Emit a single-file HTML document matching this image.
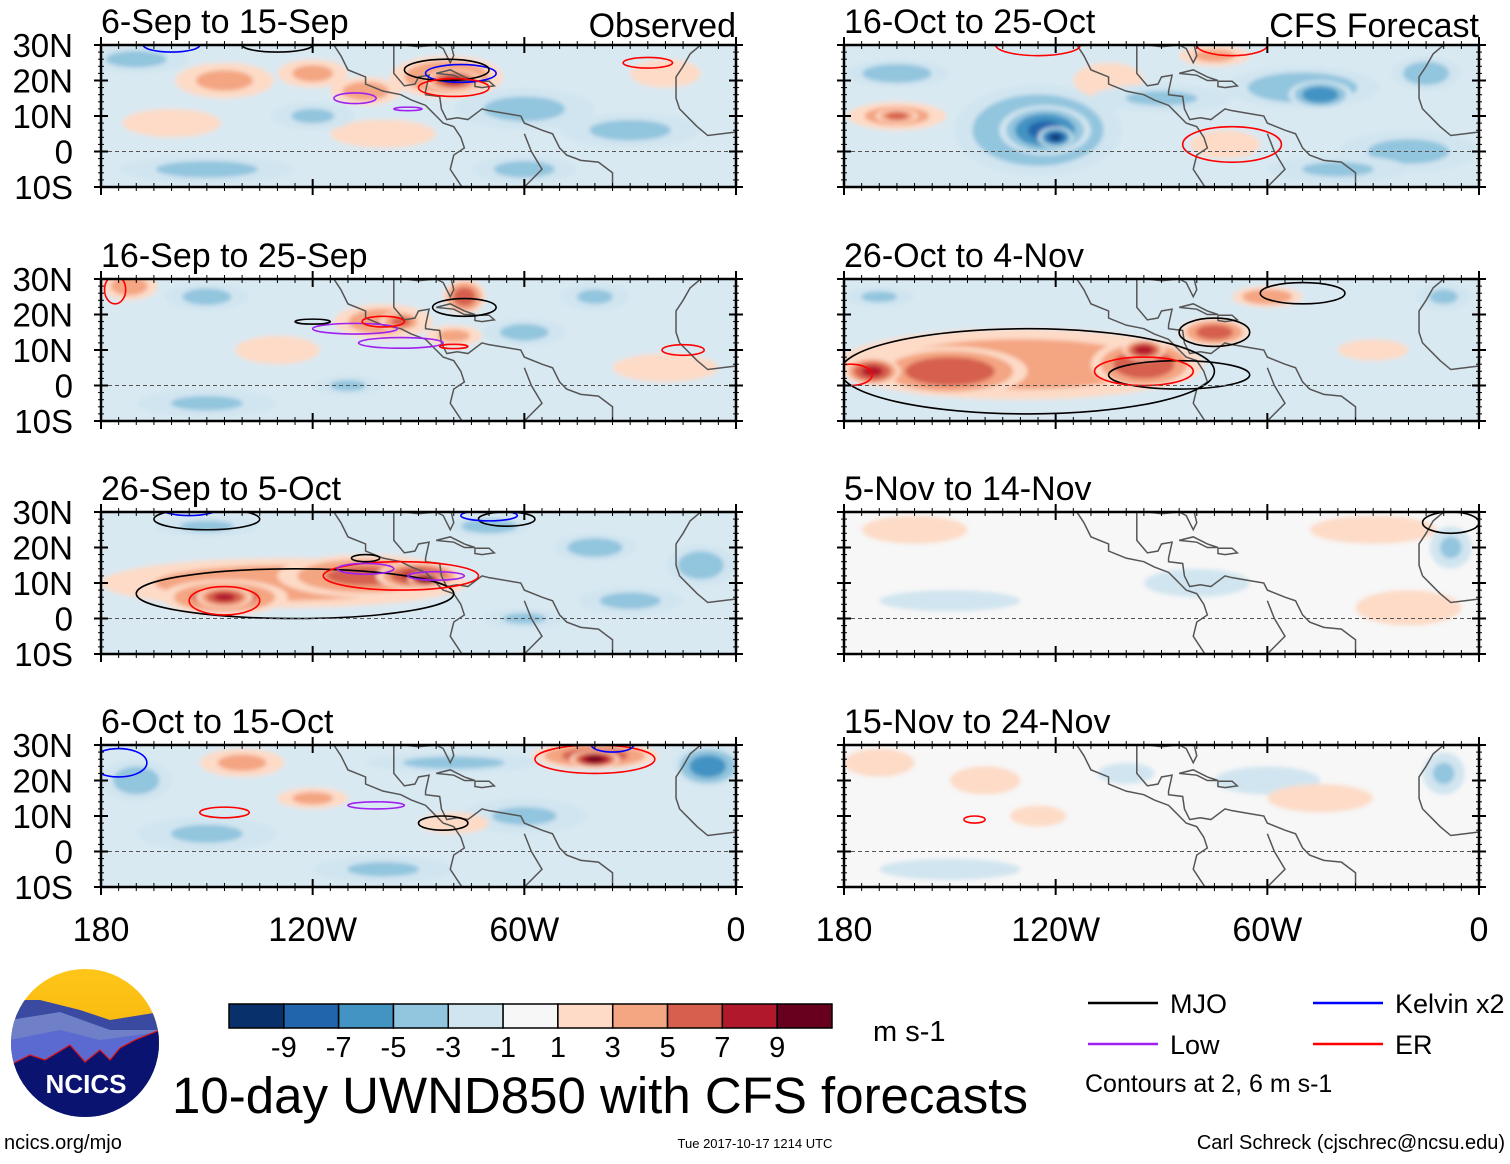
<!DOCTYPE html>
<html><head><meta charset="utf-8">
<style>
body{margin:0;background:#fff;width:1510px;height:1159px;overflow:hidden;font-family:"Liberation Sans",sans-serif;}
svg text{font-family:"Liberation Sans",sans-serif;}
</style></head>
<body>
<svg id="chart" width="1510" height="1159" xmlns="http://www.w3.org/2000/svg">
<defs>
<filter id="blur" x="-20%" y="-20%" width="140%" height="140%"><feGaussianBlur stdDeviation="2"/></filter>
<linearGradient id="sky" x1="0" y1="0" x2="0" y2="1"><stop offset="0" stop-color="#ffc61a"/><stop offset="1" stop-color="#f0a800"/></linearGradient>
<clipPath id="logoClip"><ellipse cx="85" cy="1043" rx="74" ry="74"/></clipPath>
</defs>
</svg>
<script>
// ---- data ----
const panelTitles = ["6-Sep to 15-Sep","16-Sep to 25-Sep","26-Sep to 5-Oct","6-Oct to 15-Oct","16-Oct to 25-Oct","26-Oct to 4-Nov","5-Nov to 14-Nov","15-Nov to 24-Nov"];
const levelColors = ["#08306b","#2166ac","#4393c3","#92c5de","#d1e5f0","#f7f7f7","#fddbc7","#f4a582","#d6604d","#b2182b","#67001f"];
const levelTicks = ["-9","-7","-5","-3","-1","1","3","5","7","9"];
const latTicks = ["30N","20N","10N","0","10S"];
const lonTicks = ["180","120W","60W","0"];
// anomaly blobs per panel: [lon, lat, rx(deg), ry(deg), peak value m/s]
const blobs0 = [[-170,26,15,4,-3.5],[-145,20,14,5,3.5],[-120,22,10,4,3.5],[-105,17,10,4,4],[-82,21,16,6,5],[-80,20,8,3,7.5],[-60,12,20,6,-3.5],[-30,6,20,5,-3.5],[-150,-5,25,4,-3.5],[-60,-5,15,4,-3.5],[-100,5,15,4,2.5],[-20,22,10,4,3],[-120,10,12,4,-3.2],[-160,8,14,4,2.5]];
const blobs1 = [[-150,25,12,4,-3.5],[-100,18,14,5,4.5],[-95,18,6,3,5.5],[-77,25,6,5,6],[-80,14,8,3,3.5],[-60,15,12,4,-3.5],[-172,28,8,4,4],[-130,10,12,4,3],[-20,5,15,4,3],[-150,-5,20,4,-3.2],[-40,25,10,4,-3.2],[-110,0,10,3,-3.2]];
const blobs2 = [[-128,10,52,7,4.5],[-145,6,18,5,6],[-145,6,8,3,7.5],[-105,12,25,6,5.5],[-90,12,12,4,7.5],[-88,11,5,2,9.5],[-40,20,12,4,-4],[-70,26,12,3,-4],[-10,15,10,6,-4],[-150,26,15,3,-3.2],[-30,5,15,4,-3.5],[-60,0,12,3,-3.2]];
const blobs3 = [[-170,20,10,6,-4],[-140,25,12,4,3.5],[-40,27,18,4,6],[-40,26,7,2.5,9.5],[-8,24,10,6,-6],[-80,25,25,3,-3.5],[-150,5,20,5,-3.2],[-60,10,18,5,-3.2],[-120,15,10,3,3.5],[-100,-5,20,4,-3.2],[-80,8,10,3,3]];
const blobs4 = [[-125,6,24,13,-5.5],[-123,6,13,7,-7.5],[-120,4,5,3,-9.2],[-165,10,14,4,4],[-165,10,6,2,6],[-50,18,22,6,-4.5],[-45,16,9,4,-6.5],[-165,22,15,4,-4],[-105,20,10,5,3],[-72,2,10,4,3],[-75,27,10,3,3.5],[-90,15,20,4,-3.2],[-20,0,20,6,-3.5],[-15,22,10,5,-4],[-40,-5,20,4,-3.2]];
const blobs5 = [[-130,6,52,10,4.5],[-150,4,22,7,6.5],[-172,4,8,4,7.5],[-95,6,15,7,6.5],[-95,10,6,3,8],[-75,15,10,4,6],[-60,25,10,3,4.5],[-30,10,10,3,3],[-10,25,8,4,-3.2],[-170,25,10,3,-3.2]];
const blobs6 = [[-30,25,18,4,3],[-20,3,15,5,3],[-150,5,20,3,-2.5],[-80,10,15,4,-2.5],[-8,20,6,6,-3.2],[-160,25,15,4,2.2]];
const blobs7 = [[-140,20,10,4,3],[-125,10,8,3,2.5],[-100,22,8,3,-2.2],[-60,20,15,4,-2.2],[-45,15,15,4,3],[-150,-5,20,3,-2.2],[-10,22,6,6,-3.2],[-170,25,10,4,2.2]];
const panelBlobs = [blobs0,blobs1,blobs2,blobs3,blobs4,blobs5,blobs6,blobs7];
// contours per panel: [lon, lat, rx, ry, color]
const contours0 = [[-78,22,10,2.5,"#0000ff"],[-82,23,12,3,"#000"],[-80,18,10,2.5,"#ff0000"],[-108,15,6,1.5,"#a020f0"],[-93,12,4,0.5,"#a020f0"],[-25,25,7,1.5,"#ff0000"],[-160,30,8,2,"#0000ff"],[-130,30,10,2,"#000"]];
const contours1 = [[-77,22,9,2.5,"#000"],[-108,16,12,1.5,"#a020f0"],[-95,12,12,1.5,"#a020f0"],[-120,18,5,0.7,"#000"],[-100,18,6,1.5,"#ff0000"],[-176,27,3,4,"#ff0000"],[-15,10,6,1.5,"#ff0000"],[-80,11,4,0.6,"#ff0000"]];
const contours2 = [[-125,7,45,7,"#000"],[-145,5,10,4,"#ff0000"],[-95,12,22,4,"#ff0000"],[-105,14,8,1.5,"#a020f0"],[-85,12,8,1.2,"#a020f0"],[-150,28,15,3,"#000"],[-105,17,4,1,"#000"],[-65,28,8,2,"#000"],[-70,29,8,1.5,"#0000ff"],[-155,31,8,2,"#0000ff"]];
const contours3 = [[-145,11,7,1.5,"#ff0000"],[-102,13,8,1,"#a020f0"],[-83,8,7,2,"#000"],[-40,26,17,4,"#ff0000"],[-35,30,6,2,"#0000ff"],[-175,25,8,4,"#0000ff"]];
const contours4 = [[-70,2,14,5,"#ff0000"],[-125,30,12,3,"#ff0000"],[-70,30,10,3,"#ff0000"]];
const contours5 = [[-128,4,53,12,"#000"],[-85,3,20,4,"#000"],[-95,4,14,4,"#ff0000"],[-50,26,12,3,"#000"],[-75,15,10,4,"#000"],[-178,3,6,3,"#ff0000"]];
const contours6 = [[-8,27,8,3,"#000"]];
const contours7 = [[-143,9,3,1,"#ff0000"]];
const panelContours = [contours0,contours1,contours2,contours3,contours4,contours5,contours6,contours7];
const coast = [[-117,32],[-114,30],[-112,27],[-110,23],[-105,21],[-105,19],[-100,17],[-95,16],[-92,14.5],[-88,13],[-86,11],[-85,10],[-83,8],[-80,7],[-78,4],[-77,1],[-80,-1],[-81,-5],[-79,-8],[-77,-11]];
const coast2 = [[-97,30],[-97,26],[-97,22],[-94,18.5],[-91,19],[-90,21],[-87,21.5],[-88,17],[-88,16],[-84,15.5],[-83.5,12],[-82,9],[-79,9.5],[-76,9],[-72,12],[-70,11.5],[-64,10.5],[-61,10],[-60,8],[-55,6],[-52,5],[-50,1],[-48,-1],[-44,-2.5],[-39,-3],[-35,-6],[-35,-11]];
const coast3 = [[-94,30],[-90,29.5],[-85,30],[-83,29],[-82,27],[-81,25],[-80,27],[-81,31]];
const cuba = [[-85,22],[-81,23],[-77,21],[-74,20],[-77,20],[-80,21.5],[-85,22]];
const hisp = [[-74,19.8],[-70,19.8],[-68.5,18.5],[-72,18],[-74,18.3],[-74,19.8]];
const africa = [[-9,32],[-10,30],[-13,27.5],[-15,24],[-17,21],[-17,15],[-16,12],[-13,9],[-11,7],[-8,4.5],[-4,5],[0,5.5]];
const innerLand = [[-60,5],[-58,0],[-55,-5],[-60,-10]];

const ns="http://www.w3.org/2000/svg";
const svg=document.getElementById('chart');
function el(tag,attrs,parent){const e=document.createElementNS(ns,tag);for(const k in attrs)e.setAttribute(k,attrs[k]);(parent||svg).appendChild(e);return e;}
const PW=635, PH=142;
const panelX=[101,101,101,101,844,844,844,844];
const panelY=[45,279,512,745,45,279,512,745];
const bounds=[-9,-7,-5,-3,-1,1,3,5,7,9];
function colorFor(v){
  let i=0; while(i<bounds.length && v>bounds[i]) i++;
  return levelColors[i];
}
panelTitles.forEach((t,p)=>{
  const x0=panelX[p], y0=panelY[p];
  const xs=lon=>x0+(lon+180)*PW/180;
  const ys=lat=>y0+(30-lat)*PH/40;
  const g=el('g',{});
  
  
  const cid='clip'+p;
  const cp=el('clipPath',{id:cid},svg.querySelector('defs'));
  el('rect',{x:x0,y:y0,width:PW,height:PH},cp);
  const inner=el('g',{'clip-path':'url(#'+cid+')'},g);
  const base=p>=6?'#f7f7f7':'#d9e9f2';
  el('rect',{x:x0,y:y0,width:PW,height:PH,fill:base},inner);
  const bg=el('g',{filter:'url(#blur)'},inner);
  el('rect',{x:x0-10,y:y0-10,width:PW+20,height:PH+20,fill:base},bg);
  panelBlobs[p].forEach(b=>{
    const [lon,lat,rx,ry,v]=b;
    const sgn=v<0?-1:1; const a=Math.abs(v);
    [1,3,5,7,9].filter(th=>th<a).forEach(th=>{
      const f=Math.sqrt(1-(th-1)/(a-0.5));
      const e=el('ellipse',{cx:xs(lon),cy:ys(lat),rx:rx*f*PW/180,ry:ry*f*PH/40,fill:colorFor(sgn*(th+0.5))},bg);
      
      
    });
  });
  [coast,coast2,coast3,cuba,hisp,africa,innerLand].forEach(c=>{
    el('polyline',{points:c.map(q=>xs(q[0])+','+ys(q[1])).join(' '),fill:'none',stroke:'#555',"stroke-width":1.5},inner);
  });
  panelContours[p].forEach(c=>{
    const e=el('ellipse',{cx:xs(c[0]),cy:ys(c[1]),rx:c[2]*PW/180,ry:c[3]*PH/40,fill:'none',stroke:c[4],"stroke-width":1.6},inner);
    
    
  });
  el('line',{x1:x0,x2:x0+PW,y1:ys(0),y2:ys(0),stroke:'#555',"stroke-dasharray":'4,3',"stroke-width":1},inner);
  el('rect',{x:x0,y:y0,width:PW,height:PH,fill:'none',stroke:'#000',"stroke-width":2.5},g);
  for(let lon=-180;lon<=0;lon+=5){
    const major=lon%60===0; const len=major?8:4;
    el('line',{x1:xs(lon),x2:xs(lon),y1:y0-len,y2:y0+len,stroke:'#000',"stroke-width":major?2:1},g);
    el('line',{x1:xs(lon),x2:xs(lon),y1:y0+PH-len,y2:y0+PH+len,stroke:'#000',"stroke-width":major?2:1},g);
  }
  for(let lat=-10;lat<=30;lat+=2){
    const major=lat%10===0; const len=major?7:3;
    el('line',{x1:x0-len,x2:x0+len,y1:ys(lat),y2:ys(lat),stroke:'#000',"stroke-width":major?2:1},g);
    el('line',{x1:x0+PW-len,x2:x0+PW+len,y1:ys(lat),y2:ys(lat),stroke:'#000',"stroke-width":major?2:1},g);
  }
  const tt=el('text',{x:x0,y:y0-12,"font-size":34,fill:'#000'},g);
  tt.textContent=t;
  
  
  if(p<4){
    latTicks.forEach((lt,i)=>{
      const tx=el('text',{x:73,y:y0+i*PH/4+12,"font-size":33,"text-anchor":'end'},g);
      tx.textContent=lt;
      
      
    });
  }
  if(p===3||p===7){
    lonTicks.forEach((lt,i)=>{
      const tx=el('text',{x:x0+i*PW/3,y:941,"font-size":34,"text-anchor":'middle'},g);
      tx.textContent=lt;
      
      
    });
  }
});
let h=el('text',{x:736,y:37,"font-size":34,"text-anchor":'end'});h.textContent='Observed';

h=el('text',{x:1479,y:37,"font-size":34,"text-anchor":'end'});h.textContent='CFS Forecast';

const cb=el('g',{});


const cbx=229,cbw=603/11;
levelColors.forEach((c,i)=>{el('rect',{x:cbx+i*cbw,y:1004,width:cbw,height:24,fill:c,stroke:'#000',"stroke-width":1.5},cb);});
levelTicks.forEach((t,i)=>{const tx=el('text',{x:cbx+(i+1)*cbw,y:1057,"font-size":29,"text-anchor":'middle'},cb);tx.textContent=t;});
h=el('text',{x:873,y:1041,"font-size":29});h.textContent='m s-1';

h=el('text',{x:172,y:1113,"font-size":51});h.textContent='10-day UWND850 with CFS forecasts';

const lg=el('g',{});


[[1088,1003,'#000','MJO'],[1088,1044,'#a020f0','Low'],[1313,1003,'#0000ff','Kelvin x2'],[1313,1044,'#ff0000','ER']].forEach(e=>{
  el('line',{x1:e[0],x2:e[0]+70,y1:e[1],y2:e[1],stroke:e[2],"stroke-width":2.5},lg);
  const tx=el('text',{x:e[0]+82,y:e[1]+10,"font-size":27},lg);tx.textContent=e[3];
});
h=el('text',{x:1085,y:1092,"font-size":25});h.textContent='Contours at 2, 6 m s-1';

h=el('text',{x:4,y:1149,"font-size":20});h.textContent='ncics.org/mjo';

h=el('text',{x:755,y:1148,"font-size":13,"text-anchor":'middle'});h.textContent='Tue 2017-10-17 1214 UTC';

h=el('text',{x:1505,y:1149,"font-size":20,"text-anchor":'end'});h.textContent='Carl Schreck (cjschrec@ncsu.edu)';

const lo=el('g',{'clip-path':'url(#logoClip)'});


el('rect',{x:10,y:968,width:150,height:150,fill:'url(#sky)'},lo);
el('polygon',{points:'10,1000 40,1000 80,1010 110,1020 160,1012 160,1118 10,1118',fill:'#3a4aa0'},lo);
el('polygon',{points:'10,1020 60,1012 110,1030 160,1030 160,1118 10,1118',fill:'#6f7fc8'},lo);
el('polygon',{points:'10,1040 60,1030 100,1040 160,1032 160,1118 10,1118',fill:'#5a6ad0'},lo);
el('polygon',{points:'10,1065 30,1055 45,1060 70,1045 85,1062 100,1050 110,1060 120,1048 135,1040 160,1030 160,1118 10,1118',fill:'#0a1470',stroke:'#e01010',"stroke-width":1.2},lo);
h=el('text',{x:86,y:1093,"font-size":26,"font-weight":'bold',fill:'#fff',"text-anchor":'middle'},lo);h.textContent='NCICS';
</script>
</body></html>
